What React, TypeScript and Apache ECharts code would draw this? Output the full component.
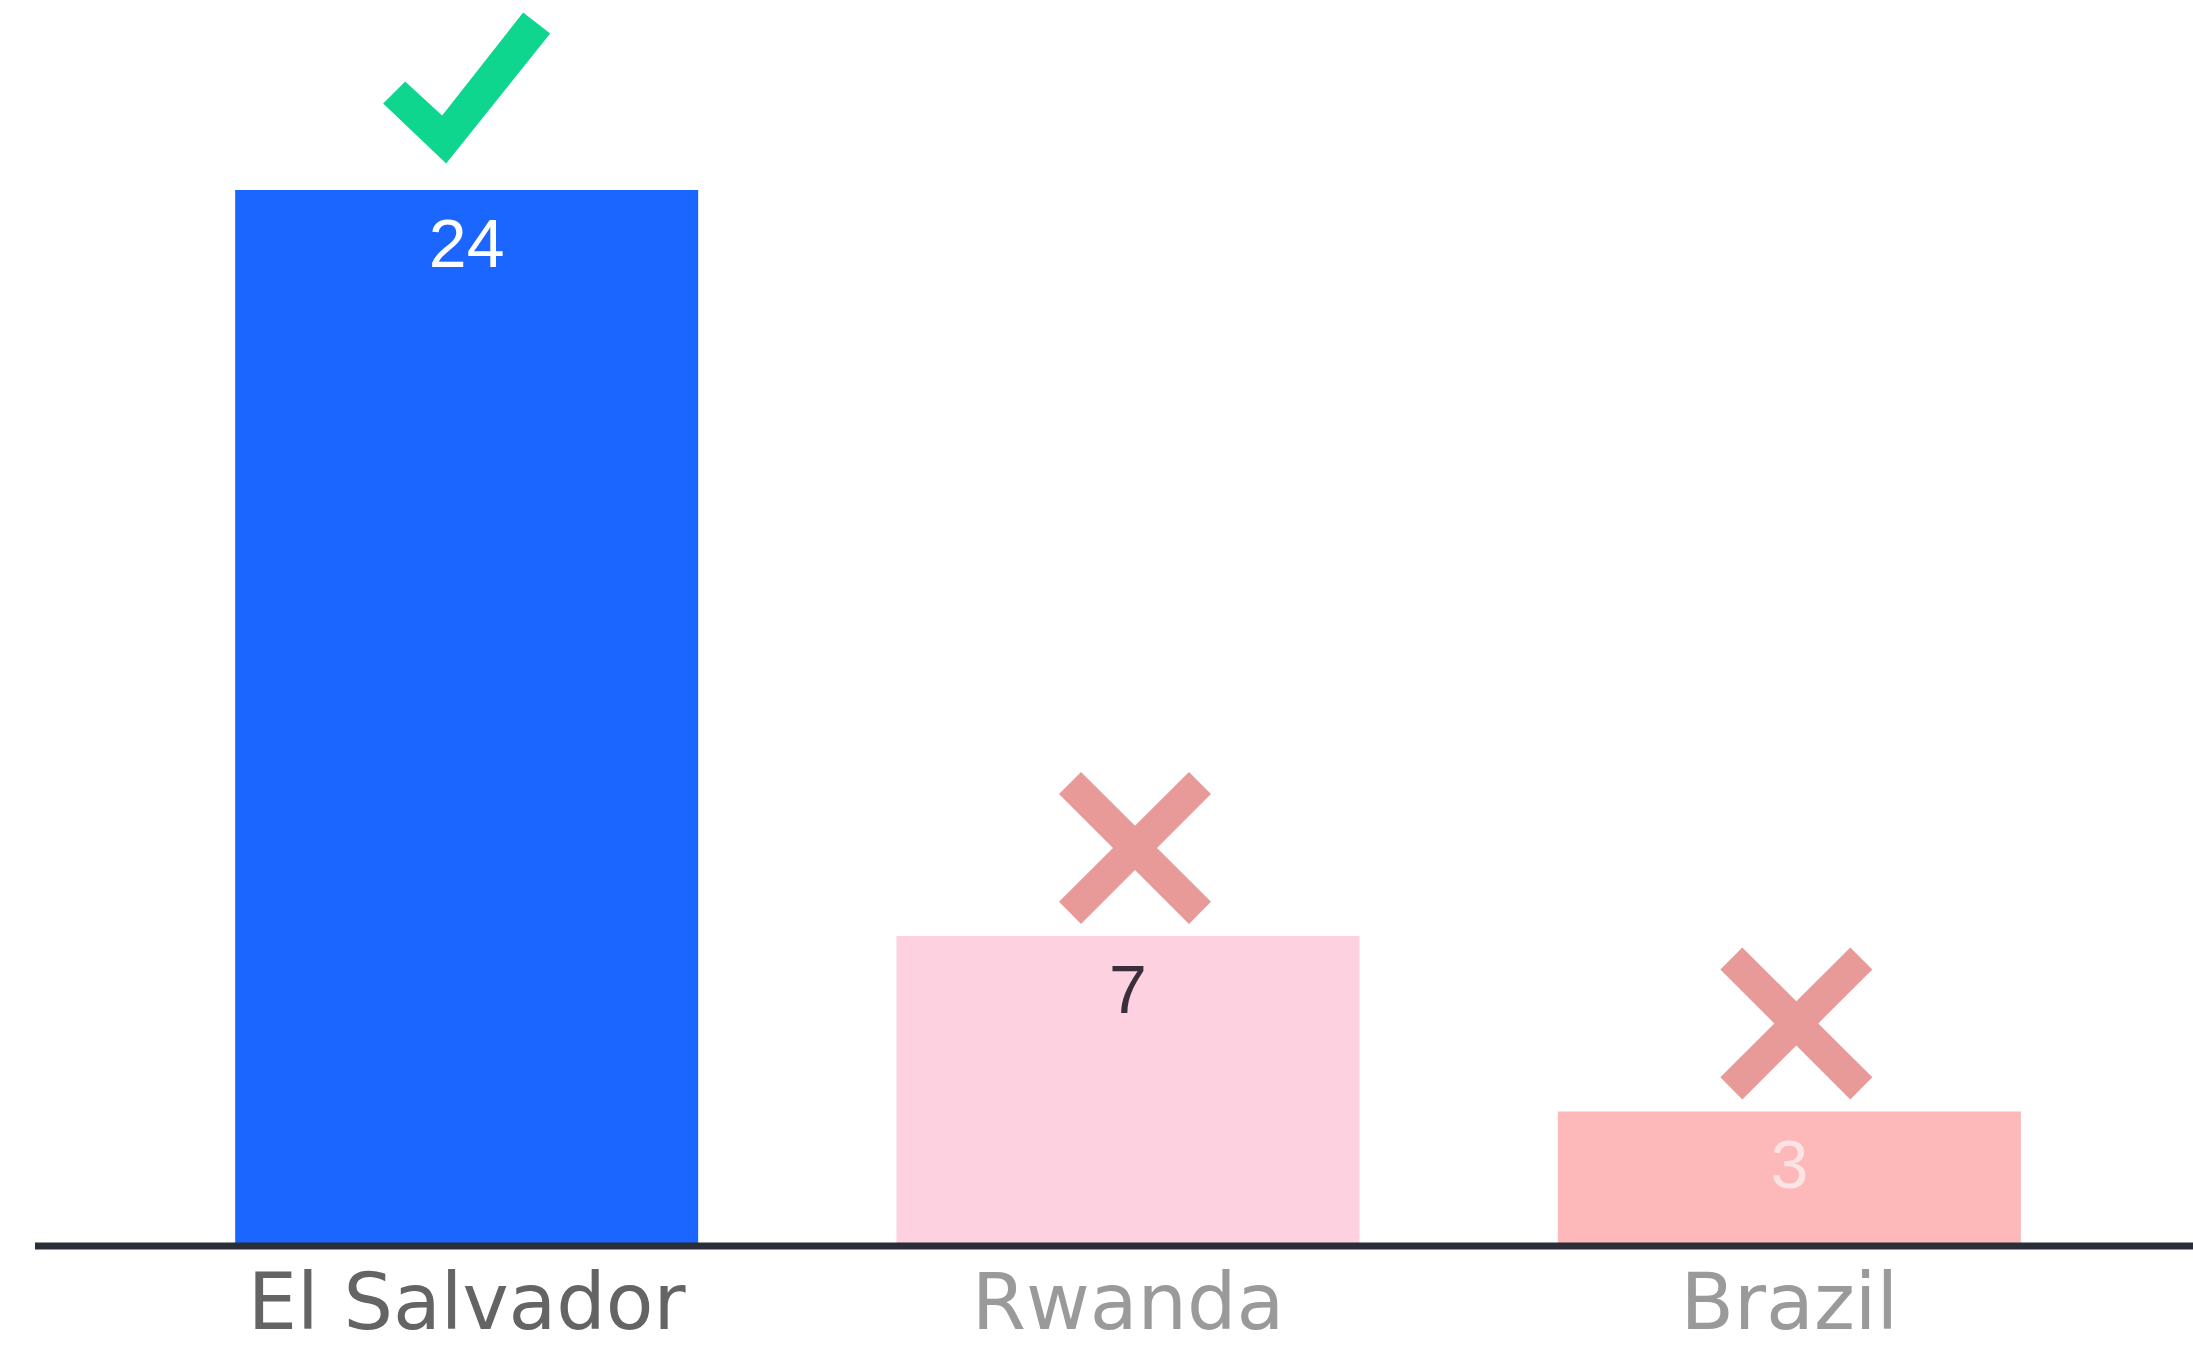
import React, { useEffect, useRef } from "react";
import * as echarts from "echarts";

const categories = ["El Salvador", "Rwanda", "Brazil"];
const values = [24, 7, 3];
const barColors = ["#1B66FF", "#FDD1E0", "#FDB9B9"];
const valueLabelColors = ["#FFFFFF", "#3A2E3A", "#FDE4E4"];
const categoryLabelColors = ["#646464", "#9A9A9A", "#9A9A9A"];
const verdicts = ["check", "cross", "cross"];

const CHECK_PATH = "path://M0,91 L22,69 L59,103 L140,0 L167,21 L63,151 Z";
const CROSS_PATH =
  "path://M22,0 L76,54 L130,0 L152,22 L98,76 L152,130 L130,152 L76,98 L22,152 L0,130 L54,76 L0,22 Z";

export default function App() {
  const ref = useRef<HTMLDivElement>(null);
  useEffect(() => {
    document.body.style.margin = "0";
    const chart = echarts.init(ref.current!, null, { renderer: "svg" });
    const labelRich: any = {};
    categories.forEach((c, i) => {
      labelRich["c" + i] = {
        color: categoryLabelColors[i],
        fontSize: 78,
        lineHeight: 78,
        fontFamily: "'DejaVu Sans', 'Open Sans', sans-serif",
      };
    });
    chart.setOption({
      animation: false,
      backgroundColor: "#FFFFFF",
      grid: { left: 136, right: 73, top: 14.5, bottom: 106, containLabel: false },
      xAxis: {
        type: "category",
        data: categories,
        axisLine: { show: false },
        axisTick: { show: false },
        axisLabel: {
          margin: 59,
          verticalAlign: "middle",
          formatter: (v: string) => {
            const i = categories.indexOf(v);
            return "{c" + i + "|" + v + "}";
          },
          rich: labelRich,
        },
      },
      yAxis: {
        type: "value",
        min: 0,
        max: 28,
        show: false,
        splitLine: { show: false },
      },
      graphic: [
        {
          type: "line",
          shape: { x1: 35, y1: 1246, x2: 2193, y2: 1246 },
          style: { stroke: "#2A2E36", lineWidth: 7 },
          z: 10,
        },
      ],
      series: [
        {
          type: "bar",
          barWidth: 463,
          data: values.map((v, i) => ({
            value: v,
            itemStyle: { color: barColors[i] },
            label: {
              show: true,
              position: "insideTop",
              distance: 19,
              color: valueLabelColors[i],
              fontSize: 68,
              lineHeight: 68,
              fontFamily: "'Liberation Sans', Arial, sans-serif",
            },
          })),
        },
        {
          type: "scatter",
          clip: false,
          z: 5,
          data: values.map((v, i) => ({
            value: [categories[i], v],
            symbol: verdicts[i] === "check" ? CHECK_PATH : CROSS_PATH,
            symbolSize: verdicts[i] === "check" ? [167, 151] : [152, 152],
            symbolOffset: verdicts[i] === "check" ? [0, -102] : [7, -88],
            itemStyle: { color: verdicts[i] === "check" ? "#0FD68F" : "#E89A98", opacity: 1 },
          })),
        },
      ],
    });
    return () => chart.dispose();
  }, []);
  return (
    <div
      ref={ref}
      style={{ position: "absolute", left: 0, top: 0, width: 2193, height: 1349 }}
    />
  );
}
